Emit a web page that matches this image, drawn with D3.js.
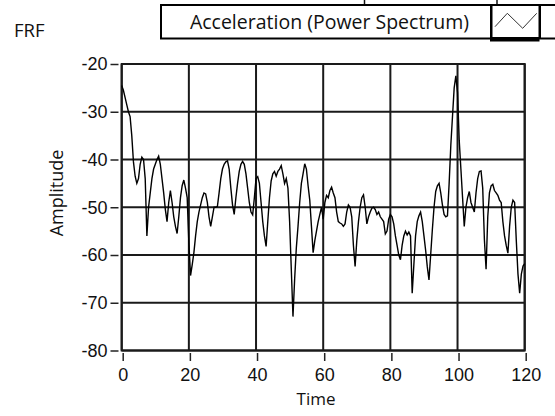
<!DOCTYPE html>
<html>
<head>
<meta charset="utf-8">
<script src="https://cdn.jsdelivr.net/npm/d3@7"></script>
<style>
  body { margin: 0; background: #fff; }
  svg { display: block; font-family: "Open Sans", sans-serif; }
  .tick text { font-size: 18px; fill: #111; }
</style>
</head>
<body>
<div class="chart-area"></div>
<script>
var xTicks = [0, 20, 40, 60, 80, 100, 120],
    yTicks = [-80, -70, -60, -50, -40, -30, -20],
    step = 0.5;

// amplitude, one value every 0.5
var amplitude = [
  -24.5, -25.5, -27, -28.5, -30, -31, -35, -40.5, -43.5, -45,
  -44, -41, -39.5, -40, -44, -56, -50, -47, -44, -42,
  -41, -40, -39.3, -41, -44, -47, -50.5, -53, -49, -46.5,
  -49, -52, -54, -55.5, -52, -48, -45.5, -44.3, -46, -48,
  -57.5, -64.3, -62, -59.5, -56, -53, -51, -49.5, -48, -47,
  -47.2, -49, -52, -54, -52, -50, -50, -49.8, -47, -44,
  -42, -41, -40.5, -40.3, -42, -46, -49.5, -51.5, -48, -45,
  -42.5, -41, -40.4, -41, -43, -46, -49, -51, -51.6, -48,
  -44, -43.6, -45, -49, -53, -56, -58.2, -53, -48, -44.5,
  -43, -42.5, -43.5, -42.5, -42, -41.3, -43, -45, -44, -46,
  -53, -63, -72.9, -65, -58.5, -54, -49, -45, -43, -40.9,
  -42, -45.5, -48.5, -54, -59.5, -57, -55, -53, -51.5, -50,
  -52.5, -49, -47.5, -48, -46.5, -45.8, -47, -48, -51, -53,
  -53.3, -53.5, -54, -53.5, -51, -49.5, -50, -52, -58, -62.4,
  -57, -53, -50, -48, -47.4, -50, -53.5, -52, -51, -50.2,
  -50, -50.5, -51.5, -51, -52, -52.5, -53, -55.6, -55, -52.5,
  -51.5, -52, -53.5, -56, -58, -60, -61, -58, -56, -55,
  -55.8, -55.2, -56, -68, -62, -56, -53, -51.8, -51, -53,
  -56, -59, -62.5, -65.2, -60, -54.7, -50, -46.7, -45.5, -45,
  -47, -49.5, -51.5, -52, -51.8, -45, -37, -31, -25, -22.5,
  -26, -36, -42, -48, -54, -50, -48, -46.7, -49, -50,
  -51, -47, -44, -42.5, -42.4, -46, -56.8, -63, -52, -47,
  -45.5, -45.2, -46.5, -47, -47.5, -48.5, -49, -53, -56, -58,
  -59.6, -54, -50, -48.5, -49, -57, -64, -68, -64, -62.3, -61.8
];

var legendLabel = "Acceleration (Power Spectrum)";

var width = 555,
    height = 416,
    plot = { left: 121.7, right: 524.7, top: 64, bottom: 350.5 };

var svg = d3.select(".chart-area")
            .append("svg")
            .attr("width", width)
            .attr("height", height);

var x = d3.scaleLinear().domain([0, 120]).range([plot.left, plot.right]),
    y = d3.scaleLinear().domain([-80, -20]).range([plot.bottom, plot.top]);

// grid
svg.selectAll(".vgrid")
   .data(xTicks)
   .enter()
   .append("line")
   .attr("x1", function(d) { return x(d) })
   .attr("x2", function(d) { return x(d) })
   .attr("y1", plot.top)
   .attr("y2", plot.bottom)
   .attr("stroke", "#1a1a1a")
   .attr("stroke-width", 2);

svg.selectAll(".hgrid")
   .data(yTicks)
   .enter()
   .append("line")
   .attr("x1", plot.left)
   .attr("x2", plot.right)
   .attr("y1", function(d) { return y(d) })
   .attr("y2", function(d) { return y(d) })
   .attr("stroke", "#1a1a1a")
   .attr("stroke-width", 2);

svg.append("rect")
   .attr("x", plot.left)
   .attr("y", plot.top)
   .attr("width", plot.right - plot.left)
   .attr("height", plot.bottom - plot.top)
   .attr("fill", "none")
   .attr("stroke", "#1a1a1a")
   .attr("stroke-width", 2);

// trace
var line = d3.line()
             .x(function(d, i) { return x(i * step) })
             .y(function(d) { return y(d) });

svg.append("path")
   .datum(amplitude)
   .attr("d", line)
   .attr("fill", "none")
   .attr("stroke", "#000")
   .attr("stroke-width", 1.4);

// axes, plain hyphen for the minus like the original
var fmt = function(d) { return String(d) };

var yAxis = svg.append("g")
               .attr("transform", "translate(118.5,0)")
               .call(d3.axisLeft(y).tickValues(yTicks).tickFormat(fmt).tickSize(8).tickPadding(3));
yAxis.select(".domain").remove();
yAxis.selectAll(".tick line").attr("stroke", "#222").attr("stroke-width", 1.5);

var xAxis = svg.append("g")
               .attr("transform", "translate(1," + (plot.bottom + 2.5) + ")")
               .call(d3.axisBottom(x).tickValues(xTicks).tickFormat(fmt).tickSize(8).tickPadding(7));
xAxis.select(".domain").remove();
xAxis.selectAll(".tick line").attr("stroke", "#222").attr("stroke-width", 1.5);

svg.append("text")
   .attr("transform", "translate(63,193) rotate(-90)")
   .attr("text-anchor", "middle")
   .attr("font-size", 18)
   .attr("fill", "#111")
   .text("Amplitude");

svg.append("text")
   .attr("x", 316)
   .attr("y", 405)
   .attr("text-anchor", "middle")
   .attr("font-size", 17)
   .attr("fill", "#111")
   .text("Time");

svg.append("text")
   .attr("x", 14)
   .attr("y", 37)
   .attr("font-size", 18.5)
   .attr("fill", "#111")
   .text("FRF");

// legend
var legend = svg.append("g");

legend.append("line")
      .attr("x1", 364.5).attr("x2", 364.5).attr("y1", 0).attr("y2", 5)
      .attr("stroke", "#111").attr("stroke-width", 1.5);
legend.append("line")
      .attr("x1", 497).attr("x2", 497).attr("y1", 0).attr("y2", 5)
      .attr("stroke", "#111").attr("stroke-width", 1.5);

legend.append("rect")
      .attr("x", 161).attr("y", 5)
      .attr("width", 400).attr("height", 33.5)
      .attr("fill", "#fff")
      .attr("stroke", "#000")
      .attr("stroke-width", 2);

legend.append("text")
      .attr("x", 329.5)
      .attr("y", 29)
      .attr("text-anchor", "middle")
      .attr("font-size", 19.5)
      .attr("fill", "#111")
      .text(legendLabel);

legend.append("rect")
      .attr("x", 490).attr("y", 5)
      .attr("width", 49.5).attr("height", 36.5)
      .attr("fill", "#000");
legend.append("rect")
      .attr("x", 492.5).attr("y", 6)
      .attr("width", 46).attr("height", 31)
      .attr("fill", "#fff");

legend.append("path")
      .attr("d", "M495,26.7L507.3,13.3L522.7,28.3L536.7,13.3")
      .attr("fill", "none")
      .attr("stroke", "#333")
      .attr("stroke-width", 1);

legend.append("line")
      .attr("x1", 540).attr("x2", 540).attr("y1", 5).attr("y2", 38.5)
      .attr("stroke", "#000").attr("stroke-width", 2);
</script>
</body>
</html>
